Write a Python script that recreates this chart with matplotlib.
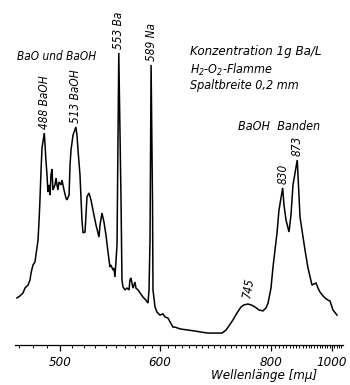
import numpy as np
import matplotlib
matplotlib.use("Agg")
import matplotlib.pyplot as plt
from matplotlib.ticker import FixedLocator, NullFormatter

plt.rcParams['font.family'] = ['DejaVu Sans']
plt.rcParams['font.style'] = 'italic'
plt.rcParams['font.stretch'] = 'condensed'

# Emission spectrum of barium in an H2-O2 flame (relative intensity)
wavelength_nm = [
    468.8, 470.8, 472.9, 474.2, 476.3, 477.7, 478.4, 479.8, 481.2, 481.9,
    483.4, 484.1, 484.8, 485.6, 486.3, 488.0, 489.2, 490.0, 490.7, 491.5,
    492.3, 493.0, 493.8, 494.5, 496.1, 496.9, 497.6, 498.4, 499.2, 500.8,
    501.6, 503.2, 504.8, 505.6, 507.3, 508.1, 508.9, 510.6, 513.0, 513.9,
    514.8, 516.5, 517.4, 518.2, 519.1, 520.9, 521.7, 522.6, 524.4, 526.2,
    528.0, 530.8, 533.6, 534.5, 536.4, 538.3, 540.2, 542.2, 544.1, 545.1,
    547.1, 548.1, 549.1, 550.2, 551.2, 553.0, 555.3, 556.3, 557.4, 559.5,
    561.6, 563.8, 564.8, 565.9, 568.1, 570.3, 571.4, 573.7, 576.0, 579.4,
    582.9, 585.3, 586.5, 587.7, 589.0, 590.7, 591.3, 593.8, 596.2, 600.0,
    603.8, 606.4, 610.3, 617.0, 619.8, 626.7, 638.3, 648.8, 656.6, 669.6,
    681.5, 693.9, 701.2, 706.8, 714.5, 722.4, 730.5, 736.7, 745.0, 751.8,
    760.7, 769.8, 779.3, 786.5, 791.5, 799.0, 804.1, 809.3, 814.6, 819.9,
    830.0, 833.7, 839.4, 848.0, 853.9, 859.9, 873.0, 881.7, 888.1, 898.0,
    908.1, 922.1, 929.3, 936.5, 944.0, 951.5, 963.1, 971.1, 983.2, 991.5,
    1004.3, 1021.9,
]
intensity = [
    14.0, 14.7, 15.7, 17.3, 18.3, 20.0, 22.3, 25.0, 26.0, 28.3,
    33.3, 39.3, 46.7, 56.7, 64.0, 69.0, 60.0, 55.0, 49.3, 51.7,
    48.3, 55.0, 57.0, 50.0, 51.7, 54.0, 51.7, 50.0, 52.7, 51.7,
    53.3, 50.0, 47.3, 46.7, 48.3, 58.3, 63.3, 68.3, 71.0, 68.3,
    63.3, 55.0, 46.7, 40.0, 35.7, 36.0, 41.7, 47.7, 49.0, 46.7,
    43.3, 38.3, 34.3, 38.3, 42.3, 39.3, 35.0, 29.3, 24.3, 25.0,
    23.3, 24.0, 21.0, 26.7, 31.7, 95.7, 46.7, 20.0, 17.7, 16.7,
    17.3, 16.7, 20.0, 20.7, 17.3, 19.3, 17.3, 16.7, 15.7, 14.3,
    13.3, 12.3, 16.7, 33.3, 91.7, 46.7, 16.7, 11.0, 9.3, 8.3,
    8.7, 7.7, 7.3, 4.3, 4.3, 3.7, 3.3, 3.0, 2.7, 2.3,
    2.3, 2.3, 3.3, 4.7, 6.7, 9.0, 11.0, 11.7, 12.0, 11.7,
    11.0, 10.0, 9.7, 10.7, 12.3, 17.3, 24.3, 30.0, 35.7, 43.3,
    50.7, 45.0, 40.0, 36.0, 41.7, 51.7, 60.0, 41.0, 36.7, 30.0,
    24.0, 18.3, 18.7, 19.0, 17.3, 16.0, 14.7, 14.0, 13.3, 13.0,
    10.0, 8.3,
]

# Labelled peaks: (wavelength, text)
peak_labels = [
    (488, "488 BaOH"),
    (513, "513 BaOH"),
    (553, "553 Ba"),
    (589, "589 Na"),
    (745, "745"),
    (830, "830"),
    (873, "873"),
]
major_ticks = [500, 600, 800, 1000]
minor_ticks = list(range(470, 1050, 10))

# Prism dispersion: position along the plate follows a Hartmann law
LAMBDA0 = 122.8


def prism_forward(lam):
    lam = np.asarray(lam, dtype=float)
    with np.errstate(divide='ignore', invalid='ignore'):
        return -1.0 / (lam - LAMBDA0)


def prism_inverse(u):
    u = np.asarray(u, dtype=float)
    with np.errstate(divide='ignore', invalid='ignore'):
        return LAMBDA0 - 1.0 / u


fig = plt.figure(figsize=(3.5, 3.85), dpi=100)
ax = fig.add_axes([15 / 350, 40 / 385, 328 / 350, 305 / 385])
ax.set_xscale('function', functions=(prism_forward, prism_inverse))

ax.plot(wavelength_nm, intensity, color='black', lw=1.1, solid_joinstyle='miter')

ax.set_xlim(467.5, 1049.7)
ax.set_ylim(-1.67, 100)

for side in ('top', 'right', 'left'):
    ax.spines[side].set_visible(False)
ax.spines['bottom'].set_linewidth(0.9)
ax.set_yticks([])

ax.xaxis.set_major_locator(FixedLocator(major_ticks))
ax.xaxis.set_minor_locator(FixedLocator(minor_ticks))
ax.xaxis.set_minor_formatter(NullFormatter())
ax.tick_params(axis='x', which='major', direction='out', length=4, width=0.9,
               pad=4, labelsize=9.5)
ax.tick_params(axis='x', which='minor', direction='out', length=2, width=0.7)

lab_by_wl = dict(zip(wavelength_nm, intensity))
for wl, txt in peak_labels:
    ax.annotate(txt, xy=(wl, lab_by_wl[float(wl)]), xytext=(0, 3),
                textcoords='offset points', rotation=90 if wl != 745 else 80,
                ha='center', va='bottom', fontsize=8.5)

fig.text(17 / 350, 1 - 56 / 385, "BaO und BaOH", ha='left', va='center', fontsize=8.5)
fig.text(190 / 350, 1 - 52 / 385, "Konzentration 1g Ba/L", ha='left', va='center', fontsize=9.5)
fig.text(190 / 350, 1 - 70 / 385, "H$_2$-O$_2$-Flamme", ha='left', va='center', fontsize=9)
fig.text(190 / 350, 1 - 85 / 385, "Spaltbreite 0,2 mm", ha='left', va='center', fontsize=9)
fig.text(238 / 350, 1 - 127 / 385, "BaOH  Banden", ha='left', va='center', fontsize=9)
fig.text(264 / 350, 1 - 376 / 385, "Wellenlänge [mμ]", ha='center', va='center', fontsize=9.5)

fig.savefig("out.png", dpi=100)
